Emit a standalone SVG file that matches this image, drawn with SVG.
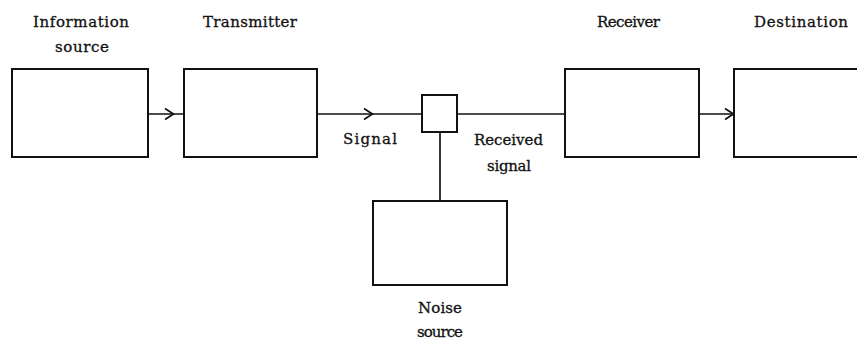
<svg xmlns="http://www.w3.org/2000/svg" width="857" height="341" viewBox="0 0 857 341" font-family="'DejaVu Serif', 'Liberation Serif', serif" font-size="15">
<style>
rect.box{fill:#fff;stroke:#111;stroke-width:2}
.conn line,.conn path{stroke:#111;stroke-width:1.7;fill:none}
text{fill:#111;stroke:#111;stroke-width:0.3}
</style>
<rect width="857" height="341" fill="#fff"/>
<g id="info">
<rect class="box" x="12" y="69" width="136" height="88"/>
<text x="33" y="27" textLength="96" lengthAdjust="spacing">Information</text>
<text x="55" y="52" textLength="54" lengthAdjust="spacing">source</text>
</g>
<g id="transmitter">
<rect class="box" x="184" y="69" width="133" height="88"/>
<text x="203" y="27" textLength="94" lengthAdjust="spacing">Transmitter</text>
</g>
<g id="mixer">
<rect class="box" x="422" y="95" width="35" height="37"/>
</g>
<g id="receiver">
<rect class="box" x="565" y="69" width="134" height="88"/>
<text x="597" y="27" textLength="63" lengthAdjust="spacing">Receiver</text>
</g>
<g id="destination">
<rect class="box" x="734" y="69" width="130" height="88"/>
<text x="754" y="27" textLength="94" lengthAdjust="spacing">Destination</text>
</g>
<g id="noise">
<rect class="box" x="373" y="201" width="134" height="84"/>
<text x="418" y="313" textLength="44" lengthAdjust="spacing">Noise</text>
<text x="417" y="337" textLength="46" lengthAdjust="spacing">source</text>
</g>
<g class="conn">
<line x1="148" y1="114" x2="184" y2="114"/>
<path d="M165 108.5 L173.5 114 L165 119.5"/>
<line x1="317" y1="114" x2="422" y2="114"/>
<path d="M364 108.5 L372.5 114 L364 119.5"/>
<line x1="457" y1="114" x2="565" y2="114"/>
<line x1="699" y1="114" x2="734" y2="114"/>
<path d="M725 108.5 L733.5 114 L725 119.5"/>
<line x1="440" y1="132" x2="440" y2="201"/>
</g>
<text x="343" y="144" textLength="54" lengthAdjust="spacing">Signal</text>
<text x="474" y="145" textLength="69" lengthAdjust="spacing">Received</text>
<text x="487" y="171" textLength="44" lengthAdjust="spacing">signal</text>
</svg>
